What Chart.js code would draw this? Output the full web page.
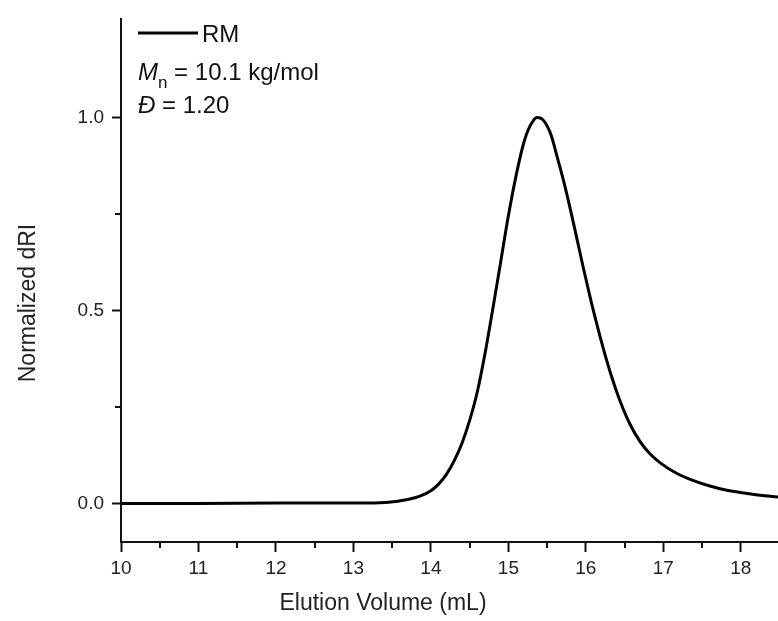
<!DOCTYPE html>
<html>
<head>
<meta charset="utf-8">
<script src="https://cdn.jsdelivr.net/npm/chart.js@4.4.0/dist/chart.umd.min.js"></script>
<style>body{margin:0;background:#fff}</style>
</head>
<body>
<canvas id="myChart" width="778" height="621"></canvas>
<script>
// GPC trace
var elutionVolume = [10.0, 11.0, 12.0, 13.0, 13.34, 13.55, 13.70, 13.85, 14.00, 14.10, 14.20, 14.30, 14.40, 14.50, 14.60, 14.70, 14.80, 14.90, 15.00, 15.10, 15.20, 15.28, 15.37,
    15.45, 15.55, 15.62, 15.72, 15.80, 15.88, 15.97, 16.06, 16.15, 16.23, 16.33, 16.44, 16.57, 16.70, 16.83, 16.96, 17.17, 17.39, 17.60, 17.82, 18.15, 18.50];
var dRI = [0.0, 0.0, 0.001, 0.001, 0.002, 0.005, 0.010, 0.018, 0.033, 0.050, 0.075, 0.11, 0.155, 0.215, 0.29, 0.39, 0.505, 0.625, 0.745, 0.85, 0.935, 0.978, 1.0,
    0.993, 0.955, 0.905, 0.83, 0.762, 0.69, 0.608, 0.53, 0.458, 0.398, 0.33, 0.266, 0.205, 0.16, 0.128, 0.105, 0.078, 0.059, 0.045, 0.034, 0.024, 0.016];

var xTicks = [10, 11, 12, 13, 14, 15, 16, 17, 18];
var xMinorTicks = [10.5, 11.5, 12.5, 13.5, 14.5, 15.5, 16.5, 17.5];
var yTicks = [0.0, 0.5, 1.0];
var yMinorTicks = [0.25, 0.75];

var seriesLabel = 'RM';
var xTitle = 'Elution Volume (mL)';
var yTitle = 'Normalized dRI';
var mnValue = ' = 10.1 kg/mol';
var dispValue = ' = 1.20';

var fontFam = '"Liberation Sans", Arial, sans-serif';

var extras = {
    id: 'extras',
    afterDraw: function(chart) {
        var c = chart.ctx;
        var xs = chart.scales.x, ys = chart.scales.y;
        var area = chart.chartArea;
        c.save();
        // minor ticks
        c.strokeStyle = '#111';
        c.lineWidth = 2;
        c.beginPath();
        xMinorTicks.forEach(function(v) {
            var px = Math.round(xs.getPixelForValue(v));
            c.moveTo(px, area.bottom);
            c.lineTo(px, area.bottom + 6);
        });
        yMinorTicks.forEach(function(v) {
            var py = Math.round(ys.getPixelForValue(v));
            c.moveTo(area.left, py);
            c.lineTo(area.left - 6, py);
        });
        c.stroke();

        // legend
        c.strokeStyle = '#000';
        c.lineWidth = 3;
        c.beginPath();
        c.moveTo(138, 33);
        c.lineTo(198, 33);
        c.stroke();
        c.fillStyle = '#111';
        c.textBaseline = 'alphabetic';
        c.textAlign = 'left';
        c.font = '24px ' + fontFam;
        c.fillText(seriesLabel, 202, 42);

        // Mn line
        c.font = 'italic 24px ' + fontFam;
        c.fillText('M', 138, 80);
        var w = c.measureText('M').width;
        c.font = '17px ' + fontFam;
        c.fillText('n', 138 + w, 88);
        var wn = c.measureText('n').width;
        c.font = '24px ' + fontFam;
        c.fillText(mnValue, 138 + w + wn, 80);

        // dispersity line
        c.font = 'italic 24px ' + fontFam;
        c.fillText('\u0110', 138, 113);
        var wd = c.measureText('\u0110').width;
        c.font = '24px ' + fontFam;
        c.fillText(dispValue, 138 + wd, 113);

        // axis titles
        c.font = '23px ' + fontFam;
        c.textAlign = 'center';
        c.textBaseline = 'middle';
        c.fillStyle = '#222';
        c.fillText(xTitle, 383, 604);
        c.translate(29, 303);
        c.rotate(-Math.PI / 2);
        c.fillText(yTitle, 0, 0);
        c.restore();
    }
};

var ctx = document.getElementById('myChart');
var myChart = new Chart(ctx, {
    type: 'line',
    data: {
        datasets: [{
            label: seriesLabel,
            data: elutionVolume.map(function(v, i) { return { x: v, y: dRI[i] }; }),
            borderColor: '#000',
            borderWidth: 3,
            pointRadius: 0,
            fill: false,
            cubicInterpolationMode: 'monotone'
        }]
    },
    options: {
        responsive: false,
        animation: false,
        layout: {
            padding: { left: 0, right: 0, top: 13, bottom: 0 }
        },
        plugins: {
            legend: { display: false },
            tooltip: { enabled: false }
        },
        scales: {
            x: {
                type: 'linear',
                min: 10,
                max: 18.48,
                afterBuildTicks: function(s) { s.ticks = xTicks.map(function(v) { return { value: v }; }); },
                afterFit: function(s) { s.height = 79; },
                border: { display: true, color: '#111', width: 2 },
                grid: { drawOnChartArea: false, drawTicks: true, tickLength: 10, tickColor: '#111', tickWidth: 2 },
                ticks: {
                    padding: 5,
                    color: '#222',
                    font: { family: fontFam, size: 19 },
                    maxRotation: 0,
                    callback: function(v) { return v; }
                }
            },
            y: {
                type: 'linear',
                min: -0.1,
                max: 1.254,
                afterBuildTicks: function(s) { s.ticks = yTicks.map(function(v) { return { value: v }; }); },
                afterFit: function(s) { s.width = 121; },
                border: { display: true, color: '#111', width: 2 },
                grid: { drawOnChartArea: false, drawTicks: true, tickLength: 9, tickColor: '#111', tickWidth: 2 },
                ticks: {
                    padding: 8,
                    color: '#222',
                    font: { family: fontFam, size: 19 },
                    callback: function(v) { return v.toFixed(1); }
                }
            }
        }
    },
    plugins: [extras]
});
</script>
</body>
</html>
